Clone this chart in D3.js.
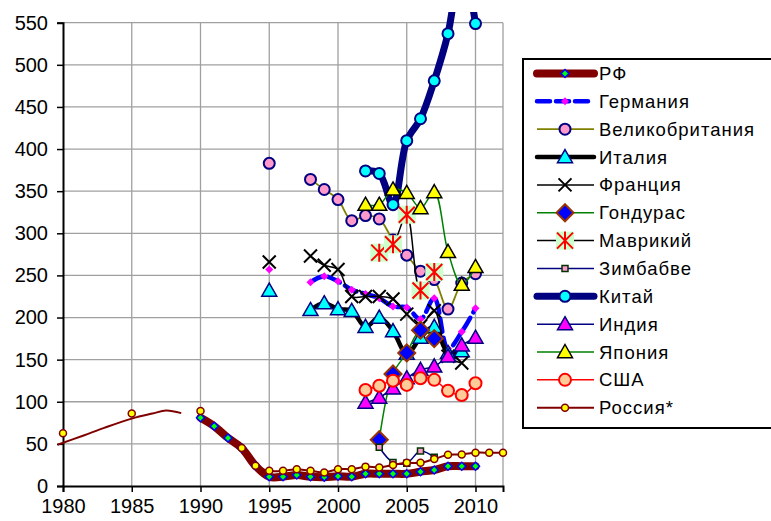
<!DOCTYPE html>
<html>
<head>
<meta charset="utf-8">
<script src="https://cdn.jsdelivr.net/npm/d3@7"></script>
<style>
body{margin:0;background:#fff}
text{font-family:"Liberation Sans",Arial,sans-serif}
</style>
</head>
<body>
<div id="graph"></div>
<script>
"use strict"
// ---- data ----
var xTicks=[1980,1985,1990,1995,2000,2005,2010]
var yTicks=[0,50,100,150,200,250,300,350,400,450,500,550]

var rfYears=[1990,1991,1992,1993,1994,1995,1996,1997,1998,1999,2000,2001,2002,2003,2004,2005,2006,2007,2008,2009,2010]
var rfValues=[81,71,57,45,24,11,11,13,11,10.5,11.5,11,14.5,14.5,14.5,14.5,17,19,23.5,23.5,23.5]

// 1996 and 1997 are missing for these four
var deYears=[1995,1996,1997,1998,1999,2000,2001,2002,2003,2004,2005,2006,2007,2008,2009,2010]
var deValues=[257,null,null,242,249,243,233,228,223,213,212,198,223,163,183,211]

var ukYears=[1995,1996,1997,1998,1999,2000,2001,2002,2003,2004,2005,2006,2007,2008,2009,2010]
var ukValues=[383,null,null,364,352,340,315,321,317,292,274,255,245,210,241,252]

var itYears=[1995,1996,1997,1998,1999,2000,2001,2002,2003,2004,2005,2006,2007,2008,2009]
var itValues=[232,null,null,209,217,210,208,189,200,184,157,176,189,158,160]

var frYears=[1995,1996,1997,1998,1999,2000,2001,2002,2003,2004,2005,2006,2007,2008,2009]
var frValues=[266,null,null,273,262,257,225,225,225,222,204,190,208,154,146]

var hnYears=[2003,2004,2005,2006,2007]
var hnValues=[55,133,158,185,175]

var muYears=[2003,2004,2005,2006,2007]
var muValues=[277,287,322,232,254]

var zwYears=[2003,2004,2005,2006,2007]
var zwValues=[46,28,27,41.5,34]

var cnYears=[2002,2003,2004,2005,2006,2007,2008,2009,2010]
var cnValues=[374,371,334,410,436,481,537,620,549]

var inYears=[2002,2003,2004,2005,2006,2007,2008,2009,2010]
var inValues=[99,105,116,128,138,142,154,167,176]

var jpYears=[2002,2003,2004,2005,2006,2007,2008,2009,2010]
var jpValues=[334,334,352,348,330,349,278,239,260]

var usYears=[2002,2003,2004,2005,2006,2007,2008,2009,2010]
var usValues=[114,119,125,120,128,126,113,108,122]

var ruYears=[1980,1981,1985,1986,1990,1991,1992,1993,1994,1995,1996,1997,1998,1999,2000,2001,2002,2003,2004,2005,2006,2007,2008,2009,2010,2011,2012]
var ruValues=[62.5,null,86,null,89,null,null,45,24,18,18,20,18,16,20,20,23,22,25,27.5,27.5,32,37,37.5,39.5,39.5,39.5]

// unlabelled smooth curve before 1990
var trendYears=[1979.6,1981.5,1983,1985,1986.5,1987.5,1988.6]
var trendValues=[49,60,69,80,86,89.5,86.5]

var series=[
  {name:'РФ',x:rfYears,y:rfValues,line:'#800000',lw:8,marker:'diamond',size:4,fill:'#00ff00',stroke:'#0000ff',sw:1.5},
  {name:'Германия',x:deYears,y:deValues,line:'#0000ff',lw:4.5,dash:'13,6',marker:'diamond',size:4,fill:'#ff00ff',stroke:'none',sw:0},
  {name:'Великобритания',x:ukYears,y:ukValues,line:'#808000',lw:1.8,marker:'circle',size:5.5,fill:'#ff99cc',stroke:'#000080',sw:2},
  {name:'Италия',x:itYears,y:itValues,line:'#000000',lw:4.5,marker:'triangle',size:7.5,fill:'#00ffff',stroke:'#000080',sw:1.5},
  {name:'Франция',x:frYears,y:frValues,line:'#000000',lw:1.5,marker:'cross',size:6.5,fill:'none',stroke:'#000000',sw:2},
  {name:'Гондурас',x:hnYears,y:hnValues,line:'#008000',lw:1.5,marker:'diamond',size:8.5,fill:'#0000ff',stroke:'#993300',sw:2},
  {name:'Маврикий',x:muYears,y:muValues,line:'#000000',lw:1.5,marker:'star',size:8,fill:'#ccffcc',stroke:'#ff0000',sw:2},
  {name:'Зимбабве',x:zwYears,y:zwValues,line:'#000080',lw:1.5,marker:'square',size:3,fill:'#ff99cc',stroke:'#003300',sw:1.5},
  {name:'Китай',x:cnYears,y:cnValues,line:'#000080',lw:7,marker:'circle',size:5.5,fill:'#00ffff',stroke:'#000080',sw:2},
  {name:'Индия',x:inYears,y:inValues,line:'#000080',lw:1.5,marker:'triangle',size:7.5,fill:'#ff00ff',stroke:'#000080',sw:1.5},
  {name:'Япония',x:jpYears,y:jpValues,line:'#008000',lw:1.5,marker:'triangle',size:7.5,fill:'#ffff00',stroke:'#000000',sw:1.5},
  {name:'США',x:usYears,y:usValues,line:'#ff0000',lw:1.5,marker:'circle',size:6,fill:'#ffcc99',stroke:'#ff0000',sw:2},
  {name:'Россия*',x:ruYears,y:ruValues,line:'#800000',lw:2,marker:'circle',size:3.5,fill:'#ffff00',stroke:'#800000',sw:1.5}
]

// marker path centred on 0,0
function markerPath(type,r){
  if(type=='diamond')return 'M0 '+(-r)+' L'+r+' 0 L0 '+r+' L'+(-r)+' 0 Z'
  if(type=='square')return 'M'+(-r)+' '+(-r)+' H'+r+' V'+r+' H'+(-r)+' Z'
  if(type=='triangle')return 'M0 '+(-r)+' L'+r+' '+(r*0.75)+' L'+(-r)+' '+(r*0.75)+' Z'
  if(type=='cross')return 'M'+(-r)+' '+(-r)+' L'+r+' '+r+' M'+r+' '+(-r)+' L'+(-r)+' '+r
  if(type=='star')return 'M'+(-r)+' '+(-r)+' L'+r+' '+r+' M'+r+' '+(-r)+' L'+(-r)+' '+r+' M0 '+(-r-1)+' V'+(r+1)
  return 'M'+(-r)+' 0 A'+r+' '+r+' 0 1 0 '+r+' 0 A'+r+' '+r+' 0 1 0 '+(-r)+' 0 Z'
}

function drawMarker(g,s,px,py){
  var m=g.append('svg:g').attr('transform','translate('+px+' '+py+')')
  if(s.marker=='star'){
    m.append('svg:rect').attr('x',-s.size-1).attr('y',-s.size-1).attr('width',2*s.size+2).attr('height',2*s.size+2).attr('fill',s.fill)
    m.append('svg:path').attr('d',markerPath('star',s.size)).attr('stroke',s.stroke).attr('stroke-width',s.sw).attr('fill','none')
    return
  }
  m.append('svg:path').attr('d',markerPath(s.marker,s.size)).attr('fill',s.fill)
    .attr('stroke',s.stroke).attr('stroke-width',s.sw)
}

var width=771,height=521
var svg=d3.select('#graph').append('svg:svg').attr('width',width).attr('height',height)
var x=d3.scaleLinear().domain([1980,2012]).range([63,503])
var y=d3.scaleLinear().domain([0,550]).range([486,22.7])

// grid
var grid=svg.append('svg:g').attr('stroke','#a0a0a0').attr('stroke-width',1.3)
xTicks.slice(1).forEach(function(t){
  grid.append('svg:line').attr('x1',x(t)).attr('x2',x(t)).attr('y1',y(550)).attr('y2',y(0))
})
grid.append('svg:line').attr('x1',x(2012)).attr('x2',x(2012)).attr('y1',y(550)).attr('y2',y(0))
yTicks.slice(1).forEach(function(t){
  grid.append('svg:line').attr('x1',x(1980)).attr('x2',x(2012)).attr('y1',y(t)).attr('y2',y(t))
})

// axes
var yAxis=svg.append('svg:g').attr('transform','translate('+x(1980)+',0)')
  .call(d3.axisLeft(y).tickValues(yTicks).tickSize(6).tickPadding(9).tickFormat(d3.format('d')))
var xAxis=svg.append('svg:g').attr('transform','translate(0,'+y(0)+')')
  .call(d3.axisBottom(x).tickValues(xTicks).tickSize(6).tickPadding(7).tickFormat(d3.format('d')))
;[xAxis,yAxis].forEach(function(a){
  a.select('.domain').attr('stroke','#000').attr('stroke-width',2)
  a.selectAll('.tick line').attr('stroke','#000').attr('stroke-width',1.5)
  a.selectAll('text').attr('font-size',20).attr('fill','#000').attr('font-family','"Liberation Sans",Arial,sans-serif')
})

svg.append('svg:defs').append('svg:clipPath').attr('id','clip')
  .append('svg:rect').attr('x',x(1980)-8).attr('y',12).attr('width',x(2012)-x(1980)+8).attr('height',y(0)-12)

var line=d3.line().defined(function(d){return d[1]!=null})
  .x(function(d){return x(d[0])}).y(function(d){return y(d[1])})
  .curve(d3.curveCatmullRom.alpha(0.5))

// curve before 1990
svg.append('svg:path').attr('d',line(trendYears.map(function(v,i){return [v,trendValues[i]]})))
  .attr('fill','none').attr('stroke','#800000').attr('stroke-width',2)

var plot=svg.append('svg:g')
series.forEach(function(s){
  var pts=s.x.map(function(v,i){return [v,s.y[i]]})
  plot.append('svg:path').attr('d',line(pts)).attr('clip-path','url(#clip)')
    .attr('fill','none').attr('stroke',s.line).attr('stroke-width',s.lw)
    .attr('stroke-dasharray',s.dash||null).attr('stroke-linejoin','round').attr('stroke-linecap','round')
  pts.forEach(function(p){
    if(p[1]==null||p[1]>550)return
    drawMarker(plot,s,x(p[0]),y(p[1]))
  })
})

// legend
var lg=svg.append('svg:g')
lg.append('svg:rect').attr('x',523).attr('y',59).attr('width',260).attr('height',369)
  .attr('fill','#fff').attr('stroke','#000').attr('stroke-width',2)
series.forEach(function(s,i){
  var cy=73.5+i*27.85
  lg.append('svg:line').attr('x1',537).attr('x2',594).attr('y1',cy).attr('y2',cy)
    .attr('stroke',s.line).attr('stroke-width',s.lw).attr('stroke-dasharray',s.dash||null)
    .attr('stroke-linecap',s.lw>3?'round':'butt')
  drawMarker(lg,s,565,cy)
  lg.append('svg:text').attr('x',599).attr('y',cy+6.5).attr('font-size',18.5)
    .attr('letter-spacing',1).text(s.name)
})
</script>
</body>
</html>
